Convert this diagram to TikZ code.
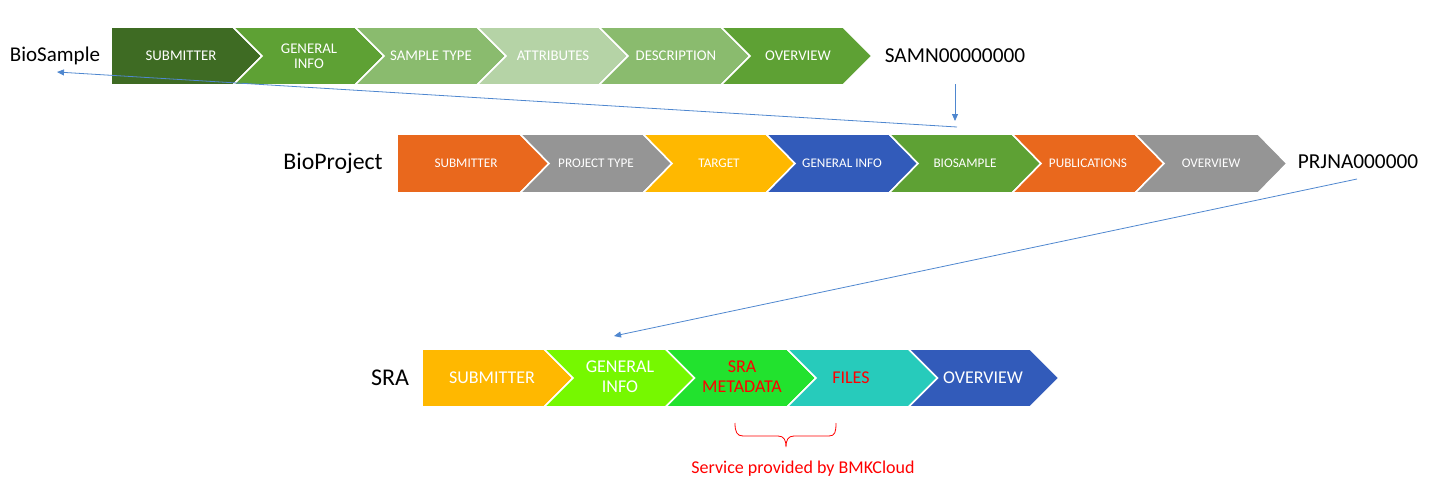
\documentclass[tikz,border=0pt]{standalone}
\usepackage{fontspec}
\setmainfont{Carlito}
\usetikzlibrary{arrows.meta}
\definecolor{gA}{HTML}{3E6B23}
\definecolor{gB}{HTML}{5EA134}
\definecolor{gC}{HTML}{8ABB6E}
\definecolor{gD}{HTML}{B5D3A6}
\definecolor{orA}{HTML}{E9681D}
\definecolor{grA}{HTML}{959595}
\definecolor{yeA}{HTML}{FFB800}
\definecolor{blA}{HTML}{325BBA}
\definecolor{lgA}{HTML}{76F800}
\definecolor{bgA}{HTML}{22E22E}
\definecolor{tlA}{HTML}{27CBBB}
\definecolor{arrA}{HTML}{4F87CF}
\definecolor{redA}{HTML}{FF0000}
\tikzset{
  chevfill/.style={fill=#1, draw=white, line width=1.6pt, line join=miter},
  labA/.style={text=white, align=center, font=\fontsize{14.8}{15}\selectfont},
  labB/.style={text=white, align=center, font=\fontsize{13.2}{14}\selectfont},
  labC/.style={text=white, align=center, font=\fontsize{18}{20}\selectfont},
  title/.style={text=black, font=\fontsize{#1}{#1}\selectfont},
  link/.style={draw=arrA, line width=0.8pt, -{Triangle[length=7pt,width=6pt]}},
}
% #1 x0, #2 yc, #3 body width, #4 half height, #5 tip depth, #6 colour, #7 notch depth (0 for first)
\newcommand\chevpiece[7]{%
  \path[chevfill=#6] (#1,#2-#4) -- (#1+#3,#2-#4) -- (#1+#3+#5,#2) -- (#1+#3,#2+#4) -- (#1,#2+#4) -- (#1+#7,#2) -- cycle;}
\begin{document}
\begin{tikzpicture}[x=1pt,y=-1pt]
\useasboundingbox (0,0) rectangle (1430,501);
% Row 1 BioSample
\chevpiece{111}{56}{122}{29}{29}{gA}{0}
\chevpiece{233}{56}{122}{29}{29}{gB}{29}
\chevpiece{355}{56}{122}{29}{29}{gC}{29}
\chevpiece{477}{56}{122}{29}{29}{gD}{29}
\chevpiece{599}{56}{122}{29}{29}{gC}{29}
\chevpiece{721}{56}{122}{29}{29}{gB}{29}
\node[labA] (s1) at (181,56) {SUBMITTER};
\node[labA] (s2) at (309,56) {GENERAL\\INFO};
\node[labA] (s3) at (431,56) {SAMPLE TYPE};
\node[labA] (s4) at (553,56) {ATTRIBUTES};
\node[labA] (s5) at (676,56) {DESCRIPTION};
\node[labA] (s6) at (798,56) {OVERVIEW};
\node[title=21] (biosample) at (55,56) {BioSample};
\node[title=21.3] (samn) at (955,56) {SAMN00000000};
% Row 2 BioProject
\chevpiece{397}{163.5}{123}{29.5}{29}{orA}{0}
\chevpiece{520}{163.5}{123}{29.5}{29}{grA}{29}
\chevpiece{643}{163.5}{123}{29.5}{29}{yeA}{29}
\chevpiece{766}{163.5}{123}{29.5}{29}{blA}{29}
\chevpiece{889}{163.5}{123}{29.5}{29}{gB}{29}
\chevpiece{1012}{163.5}{123}{29.5}{29}{orA}{29}
\chevpiece{1135}{163.5}{123}{29.5}{29}{grA}{29}
\node[labB] (p1) at (466,163) {SUBMITTER};
\node[labB] (p2) at (596,163) {PROJECT TYPE};
\node[labB] (p3) at (719,163) {TARGET};
\node[labB] (p4) at (842,163) {GENERAL INFO};
\node[labB] (p5) at (965,163) {BIOSAMPLE};
\node[labB] (p6) at (1088,163) {PUBLICATIONS};
\node[labB] (p7) at (1211,163) {OVERVIEW};
\node[title=23.8] (bioproject) at (333,163) {BioProject};
\node[title=21.3] (prjna) at (1358,162) {PRJNA000000};
% Row 3 SRA
\chevpiece{422}{378}{122}{29}{29}{yeA}{0}
\chevpiece{544}{378}{121.5}{29}{29}{lgA}{29}
\chevpiece{665.5}{378}{121.5}{29}{29}{bgA}{29}
\chevpiece{787}{378}{121.5}{29}{29}{tlA}{29}
\chevpiece{908.5}{378}{121.5}{29}{29}{blA}{29}
\node[labC] (r1) at (492,378) {SUBMITTER};
\node[labC] (r2) at (620,377) {GENERAL\\INFO};
\node[labC, text=redA] (r3) at (742,377) {SRA\\METADATA};
\node[labC, text=redA] (r4) at (851,378) {FILES};
\node[labC] (r5) at (983,378) {OVERVIEW};
\node[title=24] (sra) at (390,378) {SRA};
% connectors
\coordinate (c1a) at (957,127);
\coordinate (c1b) at (57,72);
\coordinate (c2a) at (955,84);
\coordinate (c2b) at (955,121);
\coordinate (c3a) at (1357,179);
\coordinate (c3b) at (614,336);
\draw[link] (c1a) -- (c1b);
\draw[link] (c2a) -- (c2b);
\draw[link] (c3a) -- (c3b);
% brace
\coordinate (bL) at (735,423);
\coordinate (bR) at (836,423);
\draw[redA, line width=0.8pt] (bL) .. controls (735,432) and (737,436) .. (743,436) -- (778,436)
  .. controls (784,436) and (786,440) .. (786,447)
  .. controls (786,440) and (788,436) .. (794,436) -- (829,436)
  .. controls (835,436) and (bR|-0,432) .. (bR);
\node[text=redA, font=\fontsize{18}{20}\selectfont] (svc) at (803,469) {Service provided by BMKCloud};
\end{tikzpicture}
\end{document}
